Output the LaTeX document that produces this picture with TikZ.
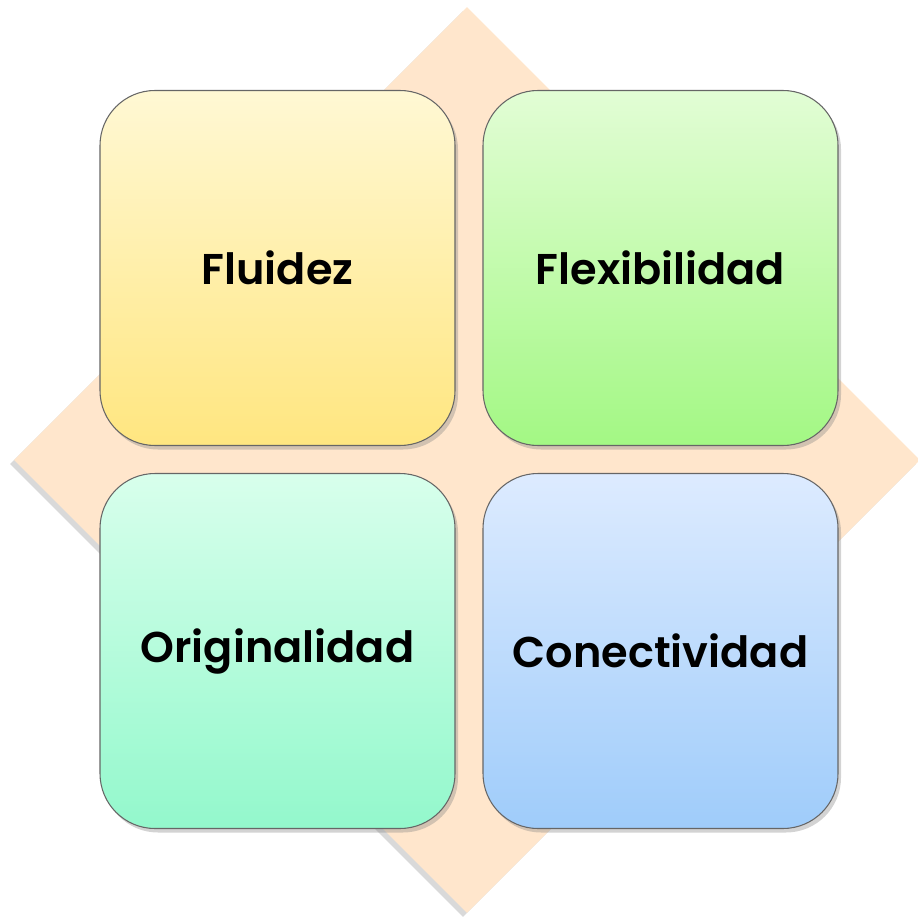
\documentclass[tikz,border=0pt]{standalone}
\usepackage{fontspec}
\setmainfont{Poppins}[BoldFont={Poppins SemiBold}]
\usepackage{tikz}
\usetikzlibrary{shapes.geometric, shadows}
\definecolor{peach}{HTML}{FFE6CC}
\tikzstyle{cuadro} = [rectangle, rounded corners=1.1cm, minimum width=7.1cm, minimum height=7.1cm, text centered, draw=black!60, line width=0.6pt, drop shadow={shadow xshift=0.06cm, shadow yshift=-0.08cm, opacity=0.35}, font=\fontsize{24.5}{30}\selectfont\bfseries]
\tikzstyle{amarillo} = [cuadro, top color={rgb,255:red,255;green,248;blue,212}, bottom color={rgb,255:red,255;green,230;blue,128}]
\tikzstyle{verde} = [cuadro, top color={rgb,255:red,226;green,253;blue,213}, bottom color={rgb,255:red,163;green,248;blue,132}]
\tikzstyle{menta} = [cuadro, top color={rgb,255:red,216;green,255;blue,236}, bottom color={rgb,255:red,147;green,248;blue,204}]
\tikzstyle{azul} = [cuadro, top color={rgb,255:red,221;green,235;blue,255}, bottom color={rgb,255:red,159;green,204;blue,250}]
\begin{document}
\begin{tikzpicture}[node distance=7.66cm]
\useasboundingbox (0,0) rectangle (18.34,-18.4);

\node (fondo) [diamond, aspect=1, inner sep=0pt, minimum size=18.12cm, fill=peach, drop shadow={shadow xshift=-0.08cm, shadow yshift=-0.08cm, opacity=0.3}] at (9.34,-9.2) {};

\node (fluidez) [amarillo] at (5.55,-5.36) {Fluidez};
\node (flexibilidad) [verde, right of=fluidez] {Flexibilidad};
\node (originalidad) [menta, below of=fluidez] {Originalidad};
\node (conectividad) [azul, right of=originalidad] {Conectividad};

\end{tikzpicture}
\end{document}
